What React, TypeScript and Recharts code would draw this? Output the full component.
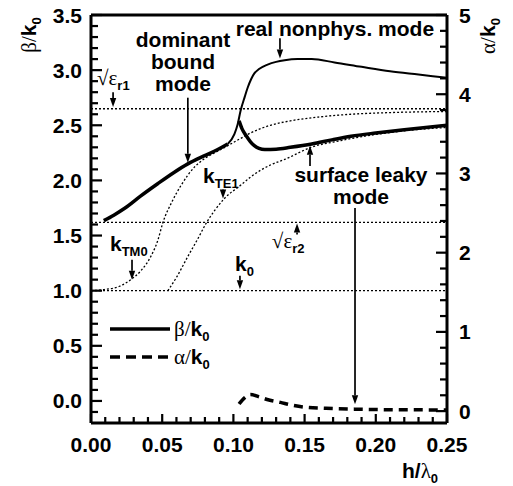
import React from 'react';
import {
  ComposedChart,
  Line,
  XAxis,
  YAxis,
  ReferenceLine,
  ReferenceDot,
  Legend,
  Label,
} from 'recharts';

// h/lambda0 and beta/k0
const hDominant = [0.009, 0.016, 0.0234, 0.035, 0.0468, 0.058, 0.068, 0.079, 0.089, 0.096];
const bDominant = [1.635, 1.685, 1.745, 1.86, 1.97, 2.07, 2.15, 2.22, 2.28, 2.33];

const hNonphys = [0.096, 0.1007, 0.103, 0.105, 0.108, 0.11, 0.1125, 0.1147, 0.118, 0.124, 0.13, 0.136, 0.145, 0.155, 0.171, 0.19, 0.21, 0.23, 0.25];
const bNonphys = [2.33, 2.42, 2.51, 2.63, 2.76, 2.84, 2.92, 2.97, 3.01, 3.05, 3.075, 3.09, 3.1, 3.1, 3.07, 3.03, 2.99, 2.96, 2.93];

const hLeaky = [0.104, 0.106, 0.109, 0.112, 0.1147, 0.118, 0.122, 0.13, 0.14, 0.155, 0.17, 0.1826, 0.2, 0.22, 0.25];
const bLeaky = [2.54, 2.47, 2.405, 2.35, 2.315, 2.29, 2.28, 2.283, 2.3, 2.33, 2.37, 2.4, 2.43, 2.46, 2.5];

const hTM0 = [0, 0.0094, 0.02, 0.028, 0.035, 0.042, 0.047, 0.0503, 0.057, 0.063, 0.0726, 0.08, 0.089, 0.096, 0.105, 0.112, 0.126, 0.14, 0.16, 0.1826, 0.21, 0.25];
const bTM0 = [1.0, 1.01, 1.04, 1.1, 1.18, 1.31, 1.46, 1.61, 1.81, 1.95, 2.12, 2.2, 2.265, 2.315, 2.38, 2.43, 2.5, 2.54, 2.575, 2.6, 2.615, 2.625];

const hTE1 = [0.054, 0.06, 0.068, 0.075, 0.0808, 0.087, 0.0936, 0.105, 0.112, 0.126, 0.136, 0.1545, 0.175, 0.194, 0.22, 0.25];
const bTE1 = [1.0, 1.12, 1.31, 1.47, 1.61, 1.73, 1.835, 1.955, 2.03, 2.14, 2.19, 2.3, 2.36, 2.405, 2.45, 2.48];

// alpha/k0 (right axis)
const hAlpha = [0.104, 0.108, 0.112, 0.118, 0.125, 0.133, 0.14, 0.15, 0.165, 0.185, 0.21, 0.25];
const aAlpha = [0.09, 0.17, 0.21, 0.18, 0.14, 0.11, 0.08, 0.05, 0.035, 0.025, 0.018, 0.015];

// horizontal levels
const sqrtEpsR1 = 2.65;
const sqrtEpsR2 = 1.62;
const kZero = 1.0;

// ticks
const xTicks = [0, 0.01, 0.02, 0.03, 0.04, 0.05, 0.06, 0.07, 0.08, 0.09, 0.1, 0.11, 0.12, 0.13, 0.14, 0.15, 0.16, 0.17, 0.18, 0.19, 0.2, 0.21, 0.22, 0.23, 0.24, 0.25];
const leftTicks = [-0.1, 0, 0.1, 0.2, 0.3, 0.4, 0.5, 0.6, 0.7, 0.8, 0.9, 1, 1.1, 1.2, 1.3, 1.4, 1.5, 1.6, 1.7, 1.8, 1.9, 2, 2.1, 2.2, 2.3, 2.4, 2.5, 2.6, 2.7, 2.8, 2.9, 3, 3.1, 3.2, 3.3, 3.4, 3.5];
const rightTicks = [0, 0.2, 0.4, 0.6, 0.8, 1, 1.2, 1.4, 1.6, 1.8, 2, 2.2, 2.4, 2.6, 2.8, 3, 3.2, 3.4, 3.6, 3.8, 4, 4.2, 4.4, 4.6, 4.8, 5];

const rows = (hs: number[], vs: number[]) => hs.map((h, i) => ({ h, v: vs[i] }));

const SANS = '"Liberation Sans", Arial, sans-serif';
const SERIF = '"Liberation Serif", "Times New Roman", serif';
const FS = 21;
const TW = 2.2; // tick mark thickness

type Part = { t: string; sub?: boolean; serif?: boolean };

const Rich = ({ x, y, parts, size = FS, anchor = 'start', rotate }: any) => {
  let inSub = false;
  return (
    <text
      x={x}
      y={y}
      textAnchor={anchor}
      fontFamily={SANS}
      fontWeight='bold'
      fontSize={size}
      fill='#000'
      transform={rotate ? `rotate(${rotate} ${x} ${y})` : undefined}
    >
      {parts.map((p: Part, i: number) => {
        let dy = 0;
        if (p.sub && !inSub) dy = size * 0.25;
        if (!p.sub && inSub) dy = -size * 0.25;
        inSub = !!p.sub;
        return (
          <tspan
            key={i}
            dy={dy}
            fontSize={p.sub ? size * 0.62 : size}
            fontFamily={p.serif ? SERIF : SANS}
            fontWeight={p.serif ? 'normal' : 'bold'}
          >
            {p.t}
          </tspan>
        );
      })}
    </text>
  );
};

const isMajor = (v: number, step: number) => Math.abs(v / step - Math.round(v / step)) < 1e-6;

// inward tick marks + labels on majors
const XTick = (props: any) => {
  const x = Number(props.x);
  const y = Number(props.y);
  const v = props.payload.value;
  const major = isMajor(v, 0.05);
  const len = major ? 9 : 6;
  return (
    <g>
      <rect x={x - TW / 2} y={y - len} width={TW} height={len} fill='#000' />
      {major && (
        <text x={x} y={y + 29} textAnchor='middle' fontFamily={SANS} fontWeight='bold' fontSize={FS} fill='#000'>
          {v.toFixed(2)}
        </text>
      )}
    </g>
  );
};

const LeftTick = (props: any) => {
  const x = Number(props.x);
  const y = Number(props.y);
  const v = props.payload.value;
  const major = isMajor(v, 0.5);
  const len = major ? 11 : 7;
  return (
    <g>
      <rect x={x} y={y - TW / 2} width={len} height={TW} fill='#000' />
      {major && (
        <text x={x - 9} y={y + 7.5} textAnchor='end' fontFamily={SANS} fontWeight='bold' fontSize={FS} fill='#000'>
          {v.toFixed(1)}
        </text>
      )}
    </g>
  );
};

const RightTick = (props: any) => {
  const x = Number(props.x);
  const y = Number(props.y);
  const v = props.payload.value;
  const major = isMajor(v, 1);
  const len = major ? 11 : 7;
  return (
    <g>
      <rect x={x - len} y={y - TW / 2} width={len} height={TW} fill='#000' />
      {major && (
        <text x={x + 12} y={y + 7.5} textAnchor='start' fontFamily={SANS} fontWeight='bold' fontSize={FS} fill='#000'>
          {v}
        </text>
      )}
    </g>
  );
};

const Arrow = ({ x1, y1, x2, y2 }: any) => {
  const dx = x2 - x1;
  const dy = y2 - y1;
  const len = Math.sqrt(dx * dx + dy * dy) || 1;
  const ux = dx / len;
  const uy = dy / len;
  const hl = 9;
  const hw = 3.2;
  const bx = x2 - ux * hl;
  const by = y2 - uy * hl;
  return (
    <g>
      <line x1={x1} y1={y1} x2={bx} y2={by} stroke='#000' strokeWidth={1.7} />
      <polygon
        points={`${x2},${y2} ${bx - uy * hw},${by + ux * hw} ${bx + uy * hw},${by - ux * hw}`}
        fill='#000'
      />
    </g>
  );
};

// annotation arrows: [from, to] in data units
const arrows = [
  [{ x: 0.0155, y: 2.8 }, { x: 0.0155, y: 2.665 }],
  [{ x: 0.068, y: 2.75 }, { x: 0.068, y: 2.16 }],
  [{ x: 0.1327, y: 3.29 }, { x: 0.1327, y: 3.105 }],
  [{ x: 0.0927, y: 1.9 }, { x: 0.0927, y: 1.835 }],
  [{ x: 0.1538, y: 2.13 }, { x: 0.1538, y: 2.315 }],
  [{ x: 0.1854, y: 1.75 }, { x: 0.1854, y: -0.03 }],
  [{ x: 0.1447, y: 1.51 }, { x: 0.1447, y: 1.61 }],
  [{ x: 0.0288, y: 1.28 }, { x: 0.0288, y: 1.1 }],
  [{ x: 0.1046, y: 1.135 }, { x: 0.1046, y: 1.012 }],
];

const sqrtEps = (sub: string): Part[] => [
  { t: '\u221A', serif: true },
  { t: '\u03B5', serif: true },
  { t: sub, sub: true },
];

// text annotations anchored in data units
const notes: { x: number; y: number; anchor: string; lines: Part[][] }[] = [
  { x: 0.0646, y: 3.21, anchor: 'middle', lines: [[{ t: 'dominant' }], [{ t: 'bound' }], [{ t: 'mode' }]] },
  { x: 0.1713, y: 3.31, anchor: 'middle', lines: [[{ t: 'real nonphys. mode' }]] },
  { x: 0.1896, y: 1.99, anchor: 'middle', lines: [[{ t: 'surface leaky' }], [{ t: 'mode' }]] },
  { x: 0.0042, y: 2.865, anchor: 'start', lines: [sqrtEps('r1')] },
  { x: 0.127, y: 1.39, anchor: 'start', lines: [sqrtEps('r2')] },
  { x: 0.0787, y: 1.98, anchor: 'start', lines: [[{ t: 'k' }, { t: 'TE1', sub: true }]] },
  { x: 0.0133, y: 1.36, anchor: 'start', lines: [[{ t: 'k' }, { t: 'TM0', sub: true }]] },
  { x: 0.1011, y: 1.18, anchor: 'start', lines: [[{ t: 'k' }, { t: '0', sub: true }]] },
];

const betaLabel: Part[] = [{ t: '\u03B2/', serif: true }, { t: 'k' }, { t: '0', sub: true }];
const alphaLabel: Part[] = [{ t: '\u03B1/', serif: true }, { t: 'k' }, { t: '0', sub: true }];
const hLabel: Part[] = [{ t: 'h/' }, { t: '\u03BB', serif: true }, { t: '0', sub: true }];

const LegendBox = () => (
  <svg width={120} height={56}>
    <line x1={2} y1={12} x2={62} y2={12} stroke='#000' strokeWidth={3.5} />
    <Rich x={66} y={19} parts={betaLabel} />
    <line x1={2} y1={40} x2={62} y2={40} stroke='#000' strokeWidth={3.5} strokeDasharray='10 6' />
    <Rich x={66} y={47} parts={alphaLabel} />
  </svg>
);

const frame = { stroke: '#000', strokeWidth: 3 };

export default function App() {
  return (
    <div style={{ position: 'absolute', left: 0, top: 0 }}>
      <ComposedChart width={513} height={486} margin={{ top: 15, right: 0, bottom: 0, left: 0 }}>
        <XAxis
          xAxisId='x'
          dataKey='h'
          type='number'
          domain={[0, 0.25]}
          allowDataOverflow
          ticks={xTicks}
          interval={0}
          height={63}
          axisLine={frame}
          tickLine={false}
          tickSize={0}
          tickMargin={0}
          tick={(p: any) => <XTick {...p} />}
        >
          <Label content={() => <Rich x={402} y={478} parts={hLabel} />} />
        </XAxis>
        <YAxis
          yAxisId='L'
          type='number'
          domain={[-0.2, 3.5]}
          allowDataOverflow
          ticks={leftTicks}
          interval={0}
          width={91}
          axisLine={frame}
          tickLine={false}
          tickSize={0}
          tickMargin={0}
          tick={(p: any) => <LeftTick {...p} />}
        >
          <Label content={() => <Rich x={36} y={35} anchor='middle' rotate={-90} parts={betaLabel} />} />
        </YAxis>
        <YAxis
          yAxisId='R'
          orientation='right'
          type='number'
          domain={[-0.15, 5]}
          allowDataOverflow
          ticks={rightTicks}
          interval={0}
          width={66}
          axisLine={frame}
          tickLine={false}
          tickSize={0}
          tickMargin={0}
          tick={(p: any) => <RightTick {...p} />}
        >
          <Label content={() => <Rich x={495} y={36} anchor='middle' rotate={-90} parts={alphaLabel} />} />
        </YAxis>

        {[sqrtEpsR1, sqrtEpsR2, kZero].map((v) => (
          <ReferenceLine
            key={v}
            xAxisId='x'
            yAxisId='L'
            y={v}
            stroke='#000'
            strokeWidth={1.3}
            strokeDasharray='2 2'
          />
        ))}
        <ReferenceLine xAxisId='x' yAxisId='L' y={3.5} stroke='#000' strokeWidth={3} ifOverflow='visible' />

        <Line xAxisId='x' yAxisId='L' data={rows(hTM0, bTM0)} dataKey='v' type='monotone' stroke='#000' strokeWidth={1.3} strokeDasharray='2 2' dot={false} isAnimationActive={false} legendType='none' />
        <Line xAxisId='x' yAxisId='L' data={rows(hTE1, bTE1)} dataKey='v' type='monotone' stroke='#000' strokeWidth={1.3} strokeDasharray='2 2' dot={false} isAnimationActive={false} legendType='none' />
        <Line xAxisId='x' yAxisId='L' data={rows(hNonphys, bNonphys)} dataKey='v' type='monotone' stroke='#000' strokeWidth={2} dot={false} isAnimationActive={false} legendType='none' />
        <Line xAxisId='x' yAxisId='L' data={rows(hDominant, bDominant)} dataKey='v' type='monotone' stroke='#000' strokeWidth={3.5} dot={false} isAnimationActive={false} name='beta' />
        <Line xAxisId='x' yAxisId='L' data={rows(hLeaky, bLeaky)} dataKey='v' type='monotone' stroke='#000' strokeWidth={3.5} dot={false} isAnimationActive={false} legendType='none' />
        <Line xAxisId='x' yAxisId='R' data={rows(hAlpha, aAlpha)} dataKey='v' type='monotone' stroke='#000' strokeWidth={3.5} strokeDasharray='9 6' dot={false} isAnimationActive={false} name='alpha' />

        {arrows.map((seg, i) => (
          <ReferenceLine key={'a' + i} xAxisId='x' yAxisId='L' segment={seg} ifOverflow='visible' shape={(p: any) => <Arrow {...p} />} />
        ))}

        {notes.map((n, i) => (
          <ReferenceDot
            key={'n' + i}
            xAxisId='x'
            yAxisId='L'
            x={n.x}
            y={n.y}
            r={0}
            ifOverflow='visible'
            shape={(p: any) => (
              <g>
                {n.lines.map((ln, j) => (
                  <Rich key={j} x={p.cx} y={p.cy + j * 22} anchor={n.anchor} parts={ln} />
                ))}
              </g>
            )}
          />
        ))}

        <Legend
          layout='vertical'
          align='center'
          verticalAlign='middle'
          content={() => <LegendBox />}
          wrapperStyle={{ position: 'absolute', left: 108, top: 317, width: 120, height: 56 }}
        />
      </ComposedChart>
    </div>
  );
}
